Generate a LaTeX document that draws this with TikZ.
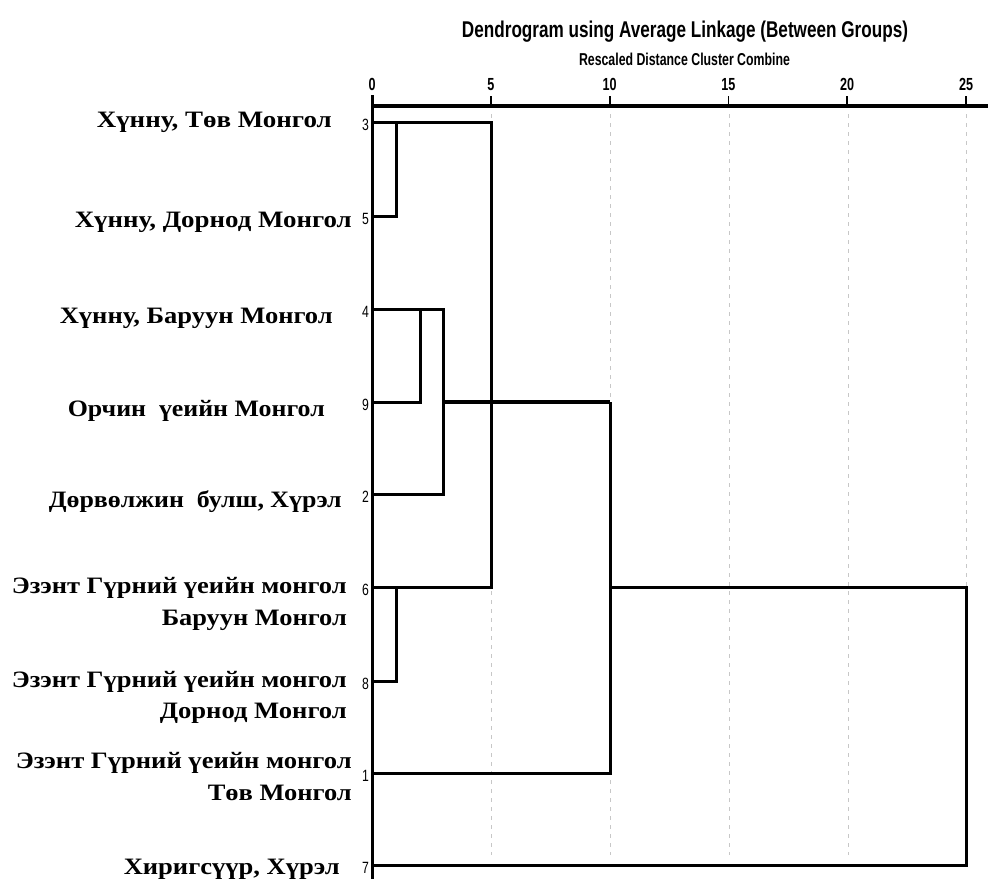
\documentclass[tikz,border=0pt]{standalone}
\usepackage{fontspec}
\usepackage{graphicx}
\setmainfont{Liberation Serif}
\newfontfamily\sansf{Liberation Sans}
\newcommand\fitw[2]{\resizebox{#1}{\height}{#2}}
\begin{document}
\begin{tikzpicture}[x=1pt,y=-1pt,
  dl/.style={line width=3pt, line join=miter},
  boldl/.style={line width=3.8pt},
  gridl/.style={draw=black!22, line width=0.9pt, dash pattern=on 4pt off 5pt},
  axisl/.style={line width=3.4pt},
  tickl/.style={line width=1.8pt},
  lbl/.style={font=\fontsize{23.5}{26}\selectfont\bfseries, anchor=base east, inner sep=0pt},
  leafno/.style={font=\sansf\fontsize{16.3}{18}\selectfont, anchor=base east, inner sep=0pt},
  tickno/.style={font=\sansf\bfseries\fontsize{17.5}{18}\selectfont, anchor=base, inner sep=0pt},
  titl/.style={font=\sansf\bfseries\fontsize{22.8}{26}\selectfont, anchor=base, inner sep=0pt},
  subt/.style={font=\sansf\bfseries\fontsize{17.2}{20}\selectfont, anchor=base, inner sep=0pt}]
\useasboundingbox[fill=white] (0,0) rectangle (988,879);

% titles
\node[titl] (title) at (685,37) {\fitw{446pt}{Dendrogram using Average Linkage (Between Groups)}};
\node[subt] (subtitle) at (684.5,65.5) {\fitw{211pt}{Rescaled Distance Cluster Combine}};

% grid lines
\foreach \gx in {491,610,729,848,966} {
  \draw[gridl] (\gx,114) -- (\gx,855);
}

% axis
\coordinate (ax0) at (372,106);
\coordinate (axE) at (988,106);
\draw[axisl] (ax0) -- (axE);
\foreach \k/\lab in {0/0,1/5,2/10,3/15,4/20,5/25} {
  \coordinate (tk\k) at ({372+118.8*\k},106);
  \draw[tickl] (tk\k) -- ++(0,-10);
  \node[tickno] (tn\k) at ({372+118.8*\k},90) {\scalebox{0.72}[1]{\lab}};
}

% left vertical line
\coordinate (vtop) at (372,95);
\coordinate (vbot) at (372,879);
\draw[dl] (vtop) -- (vbot);

% leaves
\coordinate (l3) at (372,122);
\coordinate (l5) at (372,216);
\coordinate (l4) at (372,309);
\coordinate (l9) at (372,402);
\coordinate (l2) at (372,494);
\coordinate (l6) at (372,587);
\coordinate (l8) at (372,681);
\coordinate (l1) at (372,773);
\coordinate (l7) at (372,865);

% merge points
\coordinate (m35) at (396,122);
\coordinate (c3) at (491,122);
\coordinate (m68) at (396,587);
\coordinate (m49) at (420,309);
\coordinate (m492) at (443,309);
\coordinate (j10) at (443,402);
\coordinate (k10) at (610,402);
\coordinate (j25) at (610,587);
\coordinate (k25) at (966,587);

% dendrogram
\draw[dl] (l3) -- (c3) |- (l6);
\draw[dl] (l5) -| (m35);
\draw[dl] (l8) -| (m68);
\draw[dl] (l4) -- (m492) |- (l2);
\draw[dl] (l9) -| (m49);
\draw[boldl] (j10) -- (k10);
\draw[dl] (k10) |- (l1);
\draw[dl] (j25) -- (k25) |- (l7);

% leaf numbers
\foreach \n/\yy in {3/122,5/216,4/309,9/402,2/494,6/587,8/681,1/773,7/865} {
  \node[leafno] (n\n) at (369,\yy+8) {\scalebox{0.75}[1]{\n}};
}

% labels
\node[lbl] (t3) at (332,127.5) {\fitw{235pt}{Хүнну, Төв Монгол}};
\node[lbl] (t5) at (352,227) {\fitw{277pt}{Хүнну, Дорнод Монгол}};
\node[lbl] (t4) at (333,323) {\fitw{273pt}{Хүнну, Баруун Монгол}};
\node[lbl] (t9) at (325,416) {\fitw{257pt}{Орчин\ \ үеийн Монгол}};
\node[lbl] (t2) at (342,507) {\fitw{293pt}{Дөрвөлжин\ \ булш, Хүрэл}};
\node[lbl] (t6a) at (347,593) {\fitw{335pt}{Эзэнт Гүрний үеийн монгол}};
\node[lbl] (t6b) at (347,625.5) {\fitw{185pt}{Баруун Монгол}};
\node[lbl] (t8a) at (347,687) {\fitw{335pt}{Эзэнт Гүрний үеийн монгол}};
\node[lbl] (t8b) at (347,718) {\fitw{187pt}{Дорнод Монгол}};
\node[lbl] (t1a) at (352,768) {\fitw{336pt}{Эзэнт Гүрний үеийн монгол}};
\node[lbl] (t1b) at (352,800) {\fitw{144pt}{Төв Монгол}};
\node[lbl] (t7) at (340,874) {\fitw{216pt}{Хиригсүүр, Хүрэл}};
\end{tikzpicture}
\end{document}
